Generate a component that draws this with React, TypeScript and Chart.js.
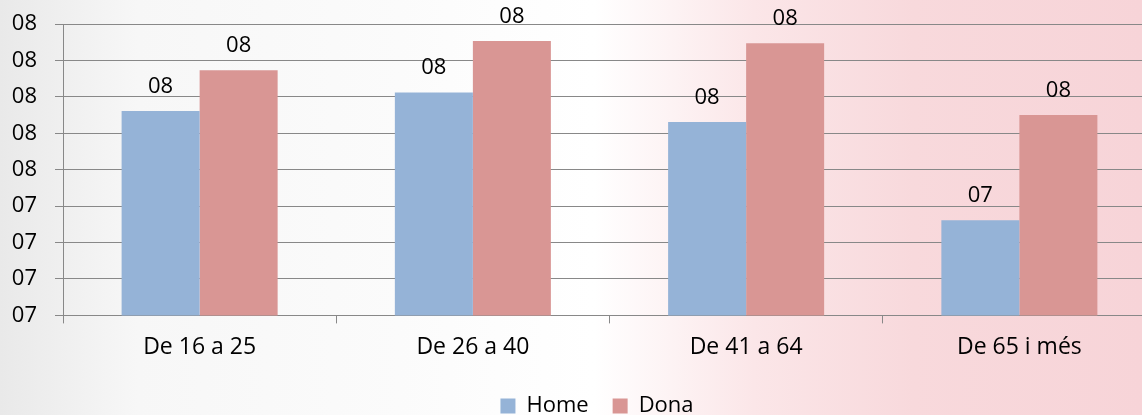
import React, { useEffect, useRef } from "react";
import { Chart, registerables } from "chart.js";

Chart.register(...registerables);

const categories = ["De 16 a 25", "De 26 a 40", "De 41 a 64", "De 65 i més"];
const homeValues = [7.661, 7.712, 7.631, 7.361];
const donaValues = [7.773, 7.853, 7.847, 7.65];
const seriesNames = ["Home", "Dona"];
const yMin = 7.1;
const yMax = 7.9;
const yStep = 0.1;

const FONT = "'Open Sans', 'DejaVu Sans', sans-serif";
const fmt = (v: number) => "0" + Math.round(Math.round(v * 100) / 100);

const dataLabelPlugin = {
  id: "barValueLabels",
  afterDatasetsDraw(chart: any) {
    const ctx = chart.ctx;
    ctx.save();
    ctx.font = `22px ${FONT}`;
    ctx.fillStyle = "#000000";
    ctx.textAlign = "center";
    ctx.textBaseline = "alphabetic";
    chart.data.datasets.forEach((ds: any, i: number) => {
      const meta = chart.getDatasetMeta(i);
      meta.data.forEach((bar: any, j: number) => {
        ctx.fillText(fmt(ds.data[j]), bar.x, bar.y - 18);
      });
    });
    ctx.restore();
  },
};

export default function App() {
  const ref = useRef<HTMLCanvasElement | null>(null);
  useEffect(() => {
    if (!ref.current) return;
    const chart = new Chart(ref.current, {
      type: "bar",
      data: {
        labels: categories,
        datasets: [
          { label: seriesNames[0], data: homeValues, backgroundColor: "#95b3d7", borderWidth: 0 },
          { label: seriesNames[1], data: donaValues, backgroundColor: "#d99694", borderWidth: 0 },
        ],
      },
      options: {
        responsive: false,
        animation: false,
        layout: { padding: { left: 0, top: 24, right: 0, bottom: 0 } },
        datasets: { bar: { categoryPercentage: 0.571, barPercentage: 1 } },
        scales: {
          x: {
            grid: {
              offset: true,
              drawOnChartArea: false,
              drawTicks: true,
              tickLength: 8,
              color: "#888888",
            },
            border: { display: true, color: "#888888", width: 1 },
            ticks: { color: "#000000", font: { family: FONT, size: 23 }, padding: 10 },
          },
          y: {
            min: yMin,
            max: yMax,
            afterFit: (s: any) => {
              s.width = 63;
              s.paddingTop = 0;
              s.paddingBottom = 0;
            },
            grid: { color: "#888888", lineWidth: 1, drawTicks: true, tickLength: 8 },
            border: { display: true, color: "#888888", width: 1 },
            ticks: {
              stepSize: yStep,
              color: "#000000",
              font: { family: FONT, size: 22 },
              padding: 18,
              callback: (v: any) => fmt(Number(v)),
            },
          },
          ySpacer: {
            type: "linear",
            position: "right",
            min: yMin,
            max: yMax,
            grid: { display: false, drawOnChartArea: false, drawTicks: false },
            border: { display: false },
            ticks: { display: false },
            afterFit: (s: any) => {
              s.width = 38;
              s.paddingTop = 0;
              s.paddingBottom = 0;
            },
          },
        },
        plugins: {
          legend: {
            position: "bottom",
            labels: {
              color: "#000000",
              font: { family: FONT, size: 22 },
              boxWidth: 15,
              boxHeight: 15,
              padding: 24,
            },
          },
          tooltip: { enabled: false },
        },
      },
      plugins: [dataLabelPlugin],
    });
    return () => chart.destroy();
  }, []);

  return (
    <div
      style={{
        position: "fixed",
        left: 0,
        top: 0,
        width: 1142,
        height: 415,
        overflow: "hidden",
        background:
          "linear-gradient(90deg, #e9e9e9 0%, #f7f7f7 12%, #fbfbfb 35%, #ffffff 52%, #fbe6e8 66%, #f8d9dc 80%, #f7d4d8 100%)",
      }}
    >
      <canvas ref={ref} width={1194} height={427} style={{ display: "block" }} />
    </div>
  );
}
